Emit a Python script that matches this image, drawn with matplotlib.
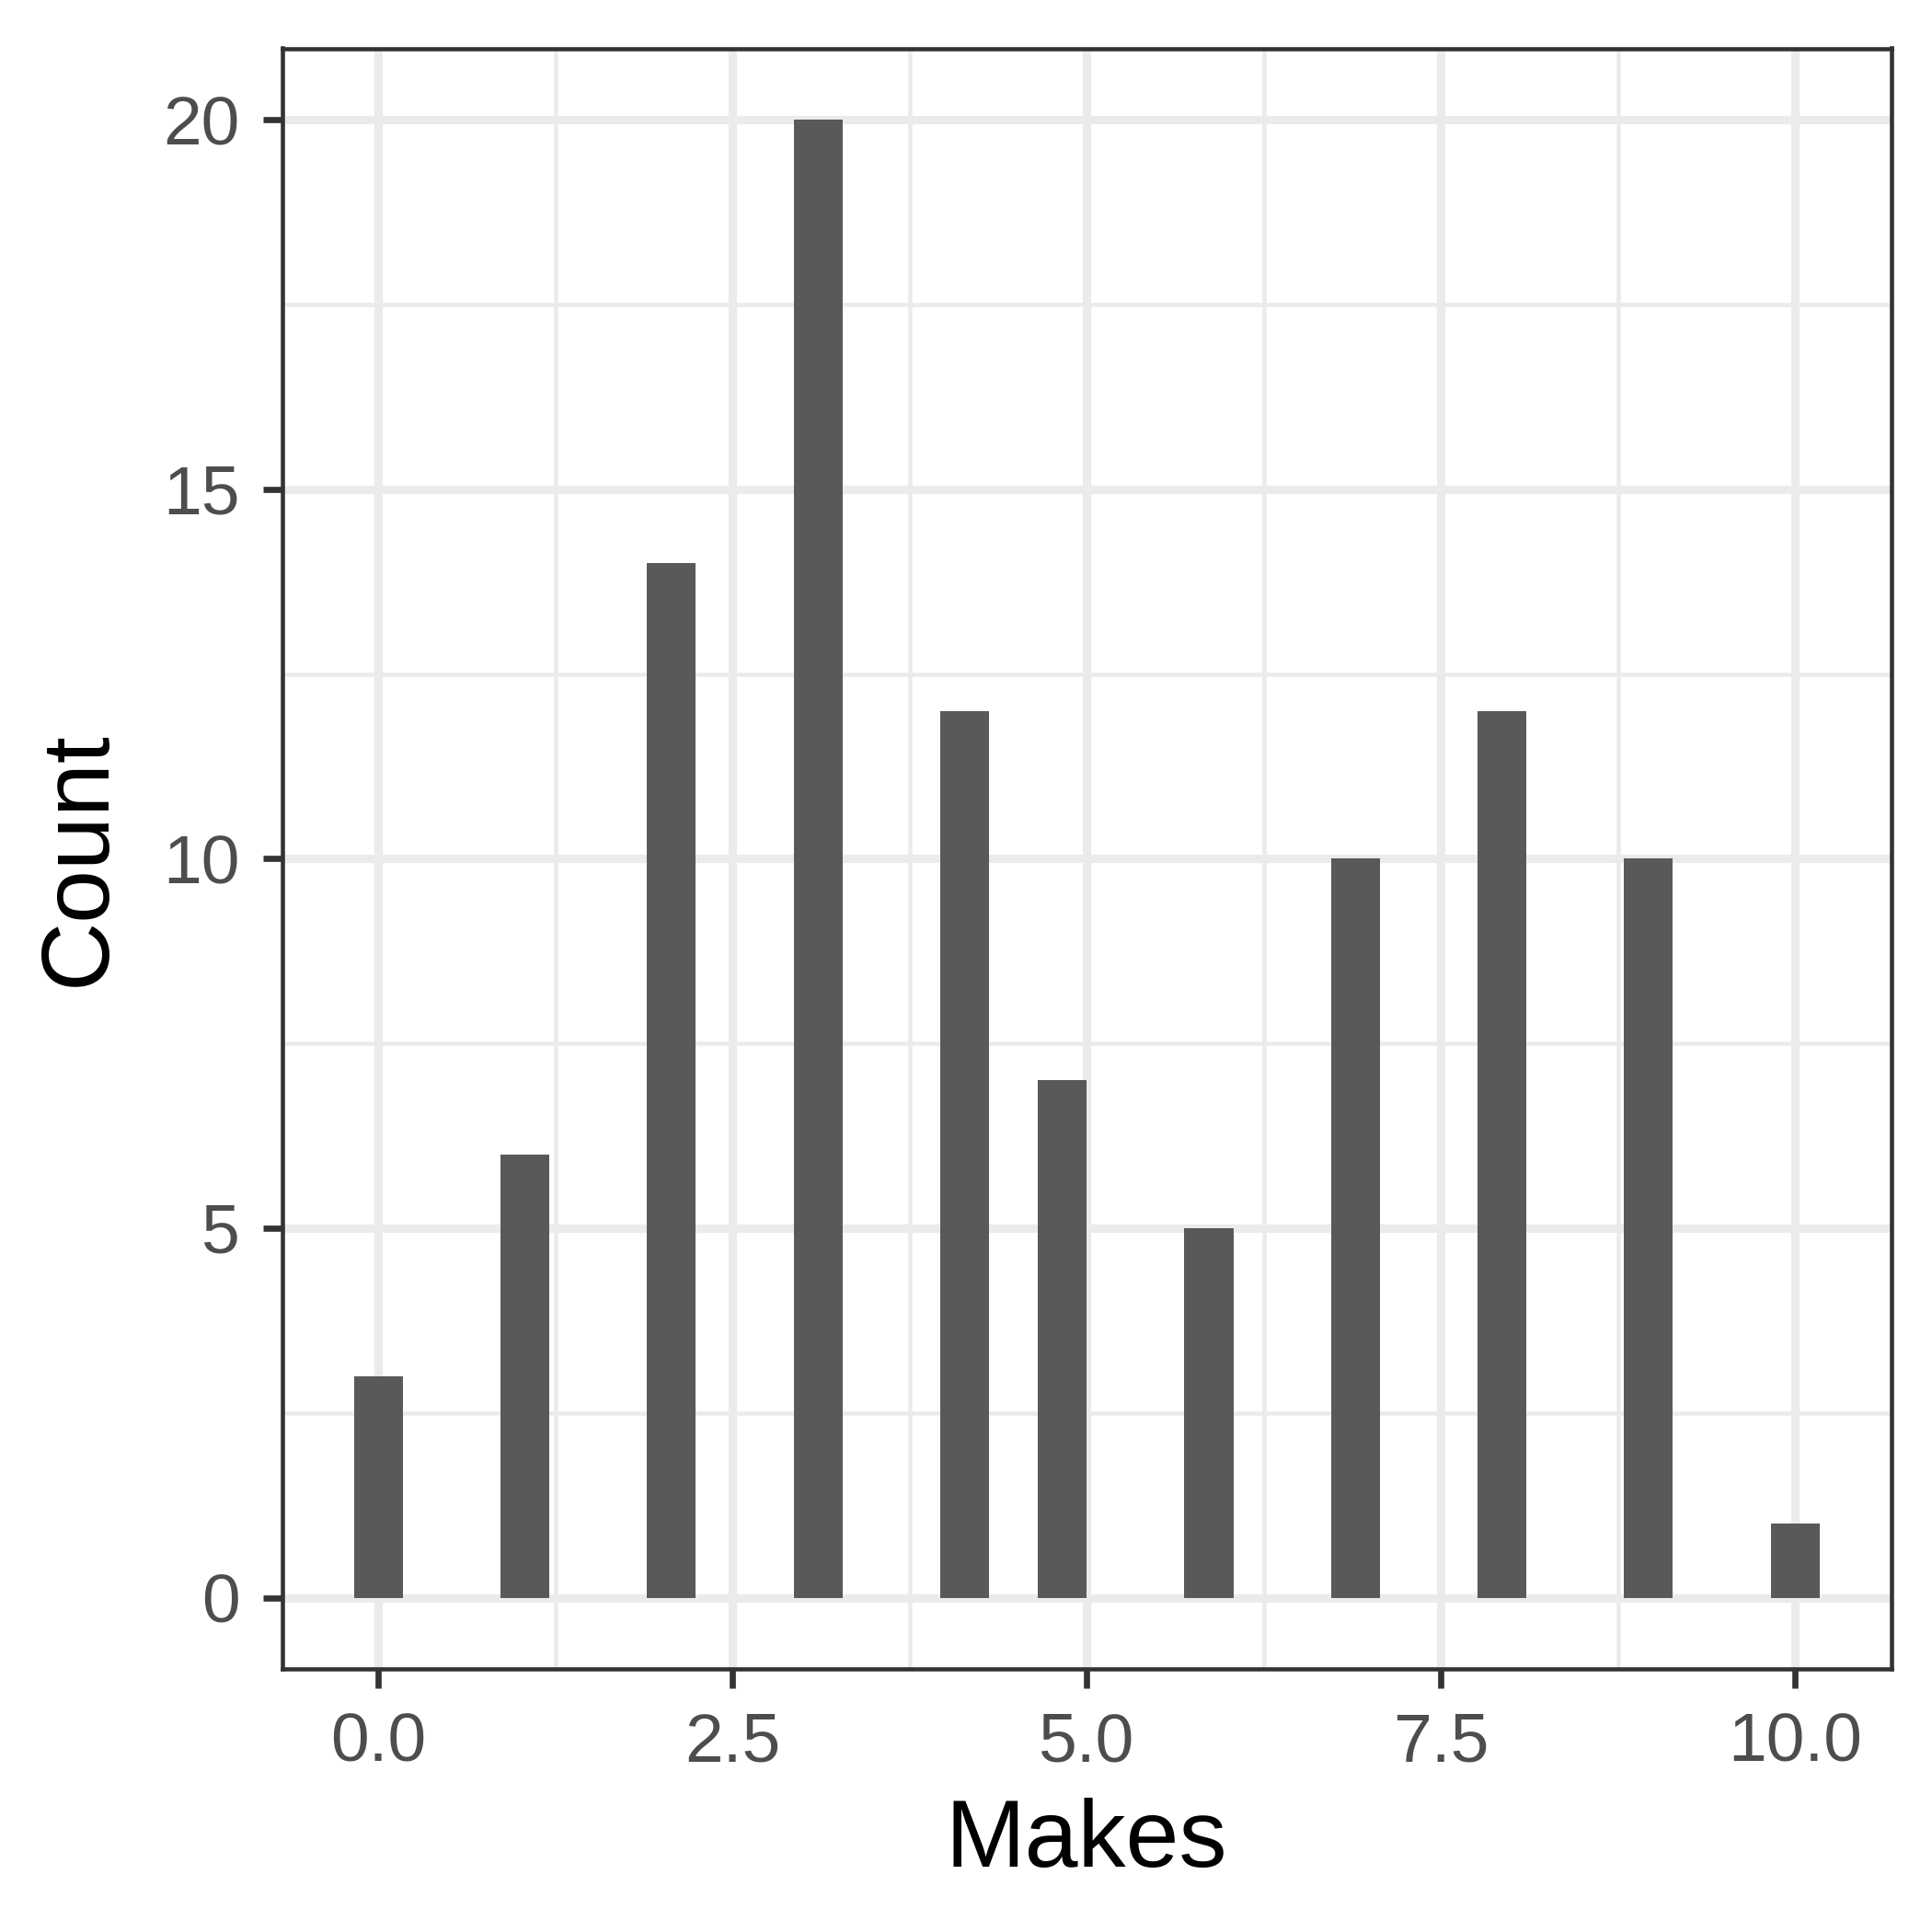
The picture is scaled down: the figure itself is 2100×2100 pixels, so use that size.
import numpy as np
import matplotlib.pyplot as plt

# histogram bin centers (30 bins over 0..10) and counts
bin_width = 10 / 29
bin_index = [0, 3, 6, 9, 12, 14, 17, 20, 23, 26, 29]
counts = [3, 6, 14, 20, 12, 7, 5, 10, 12, 10, 1]
centers = [k * bin_width for k in bin_index]

plt.rcParams["font.family"] = ["Liberation Sans", "DejaVu Sans"]

fig = plt.figure(figsize=(7, 7), dpi=300)
ax = fig.add_axes([0.146, 0.136, 0.833, 0.839])

ax.bar(centers, counts, width=bin_width, color="#595959", zorder=3)

ax.set_xlim(-0.68, 10.68)
ax.set_ylim(-0.97, 20.97)
ax.set_xticks([0, 2.5, 5, 7.5, 10])
ax.set_xticklabels(["0.0", "2.5", "5.0", "7.5", "10.0"])
ax.set_yticks([0, 5, 10, 15, 20])
ax.set_xticks([1.25, 3.75, 6.25, 8.75], minor=True)
ax.set_yticks([2.5, 7.5, 12.5, 17.5], minor=True)
ax.grid(which="major", color="#EBEBEB", linewidth=2.2, zorder=0)
ax.grid(which="minor", color="#EBEBEB", linewidth=1.1, zorder=0)
ax.tick_params(which="minor", length=0)
ax.tick_params(which="major", length=5, width=1.6, color="#333333",
               labelsize=18, labelcolor="#4D4D4D", pad=6)
for s in ax.spines.values():
    s.set_color("#333333")
    s.set_linewidth(1.1)

ax.set_xlabel("Makes", fontsize=25, labelpad=6)
ax.set_ylabel("Count", fontsize=25, labelpad=10)

fig.savefig("out.png")
